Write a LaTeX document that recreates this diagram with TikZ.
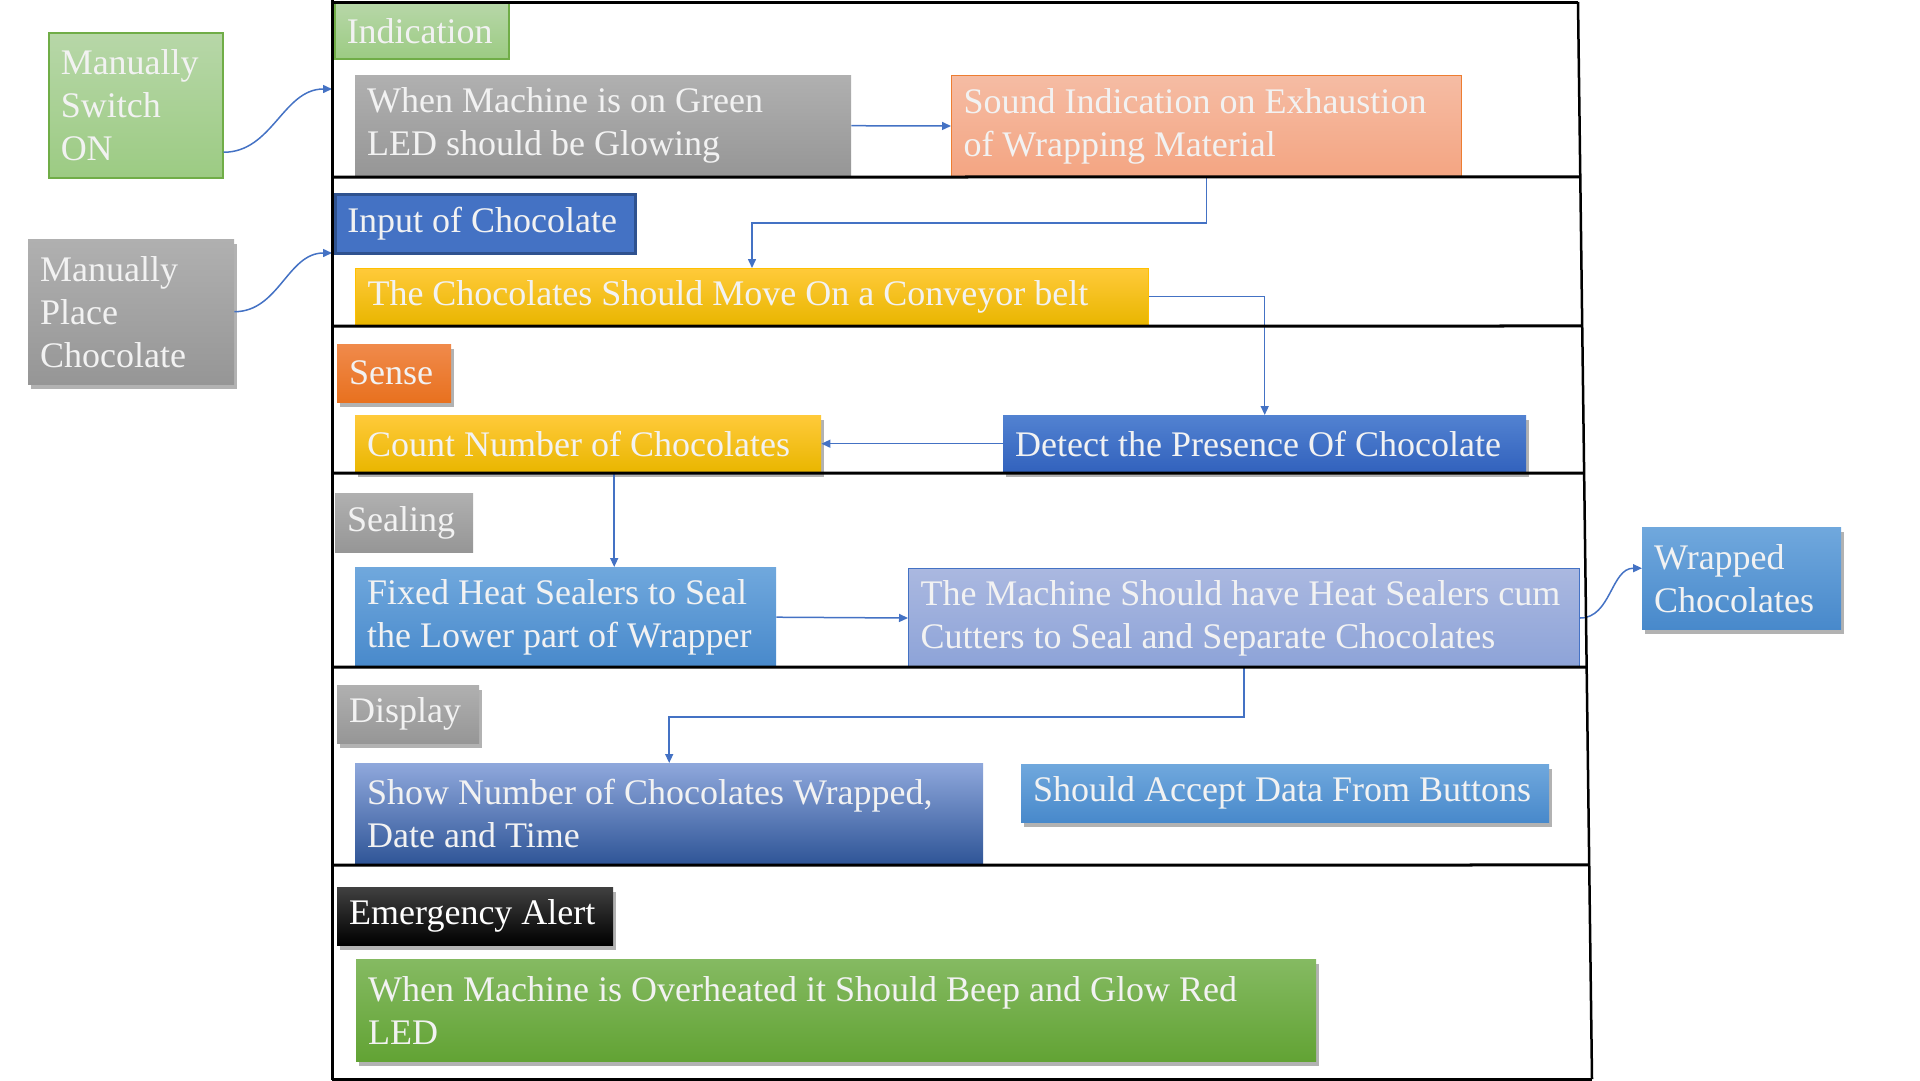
\documentclass[tikz,border=0pt]{standalone}
\usepackage{fontspec}
\setmainfont{Liberation Serif}
\usepackage{tikz}
\usetikzlibrary{arrows.meta}
\usetikzlibrary{positioning}
\usetikzlibrary{calc}
\usetikzlibrary{shadows}
\definecolor{txtwhite}{RGB}{242,242,242}
\definecolor{flowblue}{RGB}{68,114,196}
\definecolor{darkblue}{RGB}{47,82,143}
\definecolor{greenline}{RGB}{112,173,71}
\definecolor{orangeline}{RGB}{237,125,49}
\definecolor{yellowline}{RGB}{255,192,0}

\begin{document}
\begin{tikzpicture}[x=1pt,y=-1pt]
		  \tikzset{
			blk/.style={draw=none,anchor=north west,inner xsep=12pt,inner ysep=2pt,
			  text=txtwhite,font=\fontsize{36}{43}\selectfont,
			  execute at begin node={\spaceskip=9pt plus 3pt minus 2pt\relax}},
			shd/.style={drop shadow={shadow xshift=3pt,shadow yshift=-5pt,fill=black,opacity=0.3}},
			greenbox/.style={blk,top color={rgb,255:red,183;green,215;blue,168},bottom color={rgb,255:red,156;green,203;blue,131},draw=greenline,line width=1.5pt},
			graybox/.style={blk,top color={rgb,255:red,176;green,176;blue,176},bottom color={rgb,255:red,150;green,150;blue,150}},
			yellowbox/.style={blk,top color={rgb,255:red,255;green,202;blue,58},bottom color={rgb,255:red,233;green,182;blue,0}},
			bluebox/.style={blk,top color={rgb,255:red,112;green,168;blue,221},bottom color={rgb,255:red,72;green,137;blue,203}},
			flow/.style={flowblue,line width=1.5pt,-{Triangle[length=9pt,width=8pt]}},
			lane/.style={black,line width=3pt},
		  }
		  \useasboundingbox (0,0) rectangle (1920,1080);
		  %INDICATION LANE
		  \node[greenbox,minimum width=174pt,minimum height=145pt,text width=150pt] (switch) at (48,32) {Manually\\Switch\\ON};
		  \node[greenbox,minimum width=174pt,minimum height=56pt,text width=150pt] (ind) at (334,2) {Indication};
		  \node[graybox,minimum width=496pt,minimum height=101pt,text width=472pt] (when) at (355,75) {When Machine is on Green\\LED should be Glowing};
		  \node[blk,top color={rgb,255:red,245;green,188;blue,164},bottom color={rgb,255:red,244;green,165;blue,130},draw=orangeline,line width=1pt,minimum width=510pt,minimum height=101pt,text width=486pt] (sound) at (951,75) {Sound Indication on Exhaustion\\of Wrapping Material};
		  %INPUT LANE
		  \node[blk,fill=flowblue,draw=darkblue,line width=2.5pt,minimum width=300pt,minimum height=59pt,text width=276pt] (input) at (334,193) {Input of Chocolate};
		  \node[graybox,shd,minimum width=206pt,minimum height=145pt,text width=182pt] (place) at (28,239) {Manually\\Place\\Chocolate};
		  \node[yellowbox,draw=yellowline,line width=1pt,minimum width=793pt,minimum height=56pt,text width=769pt] (conv) at (355,268) {The Chocolates Should Move On a Conveyor belt};
		  %SENSE LANE
		  \node[blk,shd,top color={rgb,255:red,240;green,138;blue,75},bottom color={rgb,255:red,232;green,113;blue,31},minimum width=114pt,minimum height=58pt,text width=90pt] (sense) at (337,344) {Sense};
		  \node[yellowbox,shd,minimum width=466pt,minimum height=57pt,text width=442pt] (count) at (355,415) {Count Number of Chocolates};
		  \node[blk,shd,top color={rgb,255:red,82;green,130;blue,209},bottom color={rgb,255:red,50;green,98;blue,189},minimum width=523pt,minimum height=57pt,text width=499pt] (detect) at (1003,415) {Detect the Presence Of Chocolate};
		  %SEALING LANE
		  \node[graybox,minimum width=138pt,minimum height=59pt,text width=114pt] (seal) at (335,493) {Sealing};
		  \node[bluebox,minimum width=421pt,minimum height=100pt,text width=397pt] (fixed) at (355,567) {Fixed Heat Sealers to Seal\\the Lower part of Wrapper};
		  \node[blk,top color={rgb,255:red,170;green,184;blue,224},bottom color={rgb,255:red,141;green,163;blue,216},draw=flowblue,line width=1pt,minimum width=671pt,minimum height=99pt,text width=647pt] (machine) at (908,568) {The Machine Should have Heat Sealers cum\\Cutters to Seal and Separate Chocolates};
		  \node[bluebox,shd,minimum width=199pt,minimum height=102pt,text width=175pt] (wrapped) at (1642,527) {Wrapped\\Chocolates};
		  %DISPLAY LANE
		  \node[graybox,shd,minimum width=142pt,minimum height=58pt,text width=118pt] (display) at (337,685) {Display};
		  \node[blk,top color={rgb,255:red,143;green,168;blue,220},bottom color={rgb,255:red,47;green,85;blue,151},minimum width=628pt,minimum height=101pt,text width=604pt] (show) at (355,763) {Show Number of Chocolates Wrapped,\\Date and Time};
		  \node[bluebox,shd,minimum width=528pt,minimum height=58pt,text width=504pt] (accept) at (1021,764) {Should Accept Data From Buttons};
		  %EMERGENCY LANE
		  \node[blk,shd,top color={rgb,255:red,64;green,64;blue,64},bottom color=black,text=white,minimum width=276pt,minimum height=58pt,text width=252pt] (emerg) at (337,887) {Emergency Alert};
		  \node[blk,shd,top color={rgb,255:red,133;green,186;blue,98},bottom color={rgb,255:red,98;green,163;blue,52},minimum width=960pt,minimum height=102pt,text width=936pt] (heat) at (356,959) {When Machine is Overheated it Should Beep and Glow Red\\LED};

		  %CONNECTORS
		  \coordinate (indin) at (332,89);
		  \coordinate (inpin) at (332,253);
		  \draw[flow] ([yshift=-47pt]switch.east) to[out=0,in=180] (indin);
		  \draw[flow] (place.east) to[out=0,in=180] (inpin);
		  \draw[flow] (when.east) -- (sound.west);
		  \draw[flow] (sound.south) -- ++(0,46) -| (conv.north);
		  \draw[flow] (conv.east) -| (detect.north);
		  \draw[flow] (detect.west) -- (count.east);
		  \draw[flow] ([xshift=26pt]count.south) -- ([xshift=26pt]count.south |- fixed.north);
		  \draw[flow] (fixed.east) -- (machine.west);
		  \draw[flow] (machine.east) to[out=0,in=180] ([yshift=10pt]wrapped.west);
		  \draw[flow] (machine.south) -- ++(0,49) -| (show.north);

		  %LANES
		  \coordinate (rt) at (1578,2);
		  \coordinate (rb) at (1592,1079);
		  \draw[lane] (332,0) -- (332,1080);
		  \draw[lane] (332,2) -- (rt);
		  \draw[black,line width=2.5pt] (rt) -- (rb);
		  \foreach \y in {177,326,473,667,865,1079}{
			\draw[lane] (332,\y) -- ($(rt)!{(\y-2)/1077}!(rb)$);
		  }
\end{tikzpicture}
\end{document}
